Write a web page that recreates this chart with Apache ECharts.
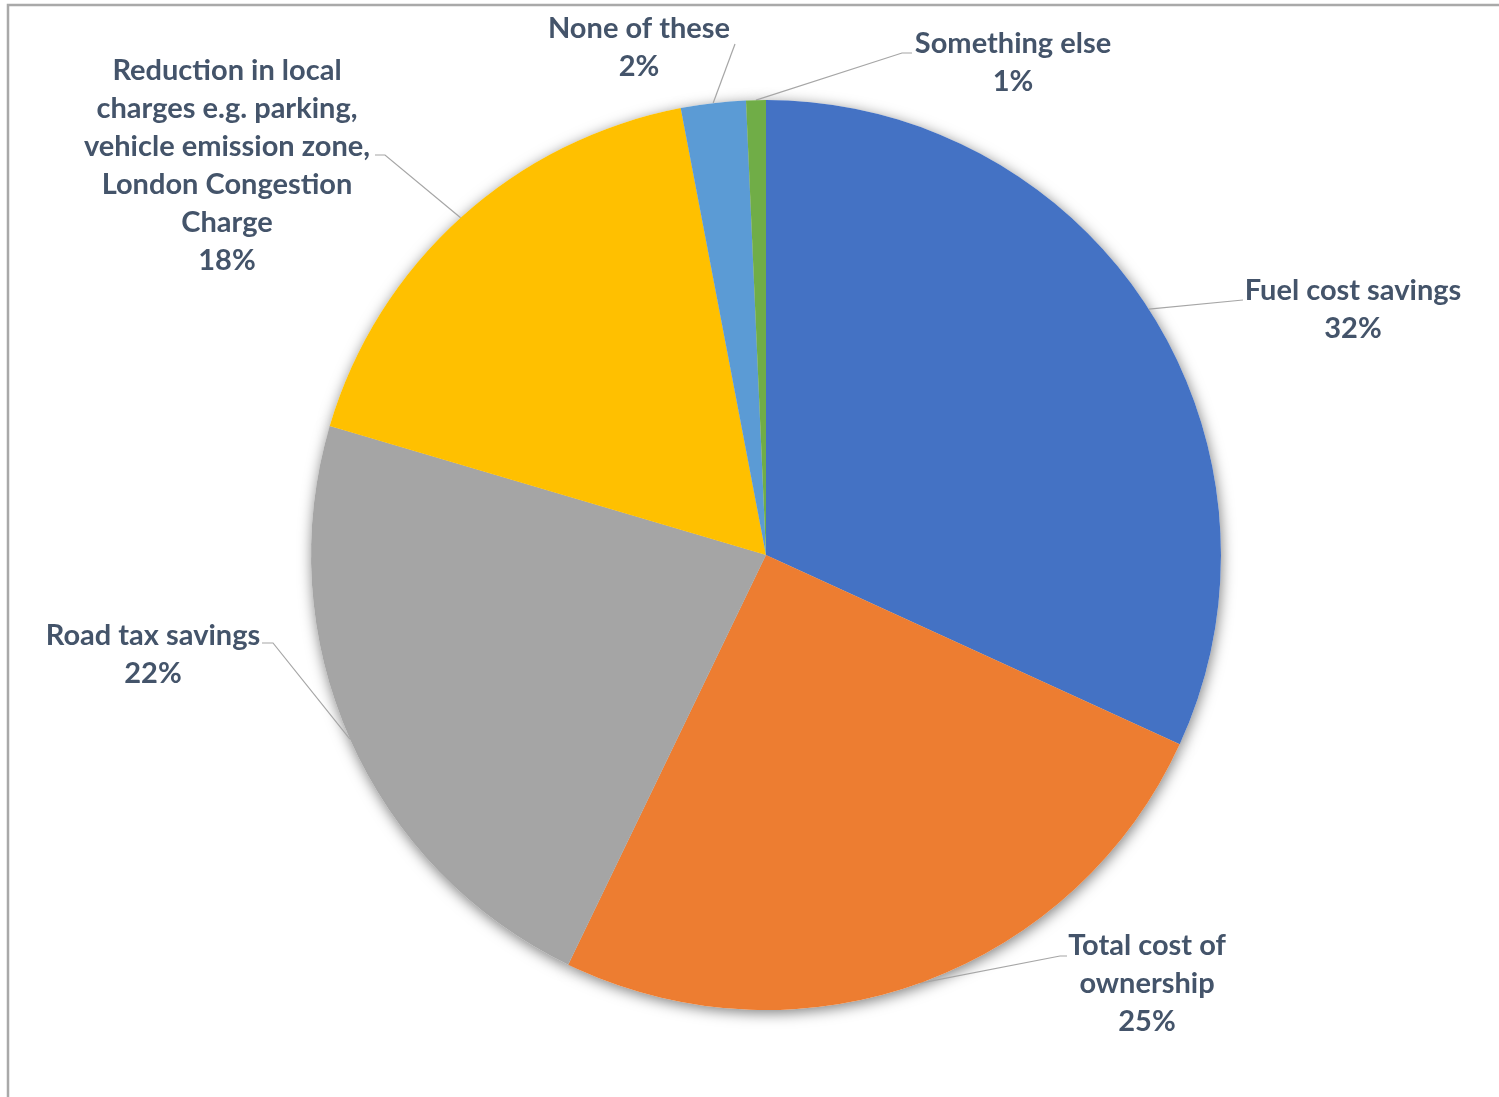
<!DOCTYPE html>
<html>
<head>
<meta charset="utf-8">
<script src="https://cdn.jsdelivr.net/npm/echarts@6/dist/echarts.min.js"></script>
<style>
html,body{margin:0;padding:0;background:#fff;}
#chart{width:1499px;height:1097px;}
</style>
</head>
<body>
<div id="chart"></div>
<script>
// ---- data ----
const categories = [
  'Fuel cost savings',
  'Total cost of\nownership',
  'Road tax savings',
  'Reduction in local\ncharges e.g. parking,\nvehicle emission zone,\nLondon Congestion\nCharge',
  'None of these',
  'Something else'
];
const values = [31.8, 25.3, 22.4, 17.4, 2.3, 0.7];
const percentLabels = ['32%', '25%', '22%', '18%', '2%', '1%'];
const colors = ['#4472C4', '#ED7D31', '#A5A5A5', '#FFC000', '#5B9BD5', '#70AD47'];

// ---- label placement (label centre, leader elbow, leader end) ----
const labelPos = [
  {c: [1353, 310], elbow: [1243, 300], end: [1243, 300]},
  {c: [1147, 984], elbow: [1060, 956], end: [1067, 956]},
  {c: [153, 655],  elbow: [273, 643], end: [262, 643]},
  {c: [227, 166],  elbow: [385, 155], end: [375, 155]},
  {c: [639, 48],   elbow: [735, 44], end: [735, 44]},
  {c: [1013, 63],  elbow: [902, 53], end: [912, 53]}
];

const chart = echarts.init(document.getElementById('chart'), null, {renderer: 'canvas'});
const pieData = categories.map((n, i) => ({name: n, value: values[i], itemStyle: {color: colors[i]}}));

const option = {
  backgroundColor: '#ffffff',
  animation: false,
  graphic: [{
    type: 'polyline',
    shape: {points: [[8, 1097], [8, 5], [1499, 5]]},
    style: {stroke: '#a9a9a9', lineWidth: 2.5, fill: null},
    silent: true
  }],
  series: [
    {
      type: 'pie',
      silent: true,
      z: 1,
      center: [766, 555],
      radius: 455,
      startAngle: 90,
      clockwise: true,
      label: {show: false},
      labelLine: {show: false},
      itemStyle: {color: '#ffffff', shadowBlur: 14, shadowColor: 'rgba(0,0,0,0.5)', shadowOffsetX: 1, shadowOffsetY: 3},
      data: values.map((v, i) => ({name: 'bg' + i, value: v}))
    },
    {
      type: 'pie',
      z: 2,
      center: [766, 555],
      radius: 455,
      startAngle: 90,
      clockwise: true,
      avoidLabelOverlap: false,
      itemStyle: {borderWidth: 0},
      label: {
        show: true,
        position: 'outside',
        formatter: p => p.name + '\n' + percentLabels[p.dataIndex],
        fontFamily: 'Lato',
        fontWeight: 'bold',
        fontSize: 29,
        lineHeight: 38,
        color: '#44546A',
        align: 'center'
      },
      labelLine: {show: true, length: 20, length2: 20, lineStyle: {color: '#a6a6a6', width: 1.2}},
      labelLayout: function (params) {
        const lp = labelPos[params.dataIndex];
        const start = params.labelLinePoints ? params.labelLinePoints[0] : lp.elbow;
        return {
          x: lp.c[0],
          y: lp.c[1],
          align: 'center',
          verticalAlign: 'middle',
          labelLinePoints: [start, lp.elbow, lp.end]
        };
      },
      data: pieData
    }
  ]
};
chart.setOption(option);
</script>
</body>
</html>
